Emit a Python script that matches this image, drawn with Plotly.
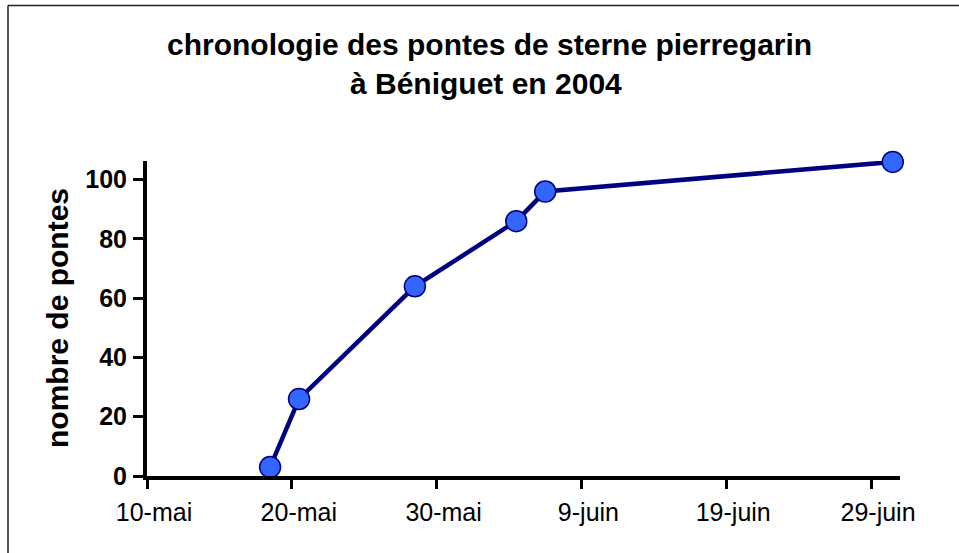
import plotly.graph_objects as go
import pandas as pd

# Data
dates = ["2004-05-18", "2004-05-20", "2004-05-28", "2004-06-04", "2004-06-06", "2004-06-30"]
pontes = [3, 26, 64, 86, 96, 106]
tick_dates = ["2004-05-10", "2004-05-20", "2004-05-30", "2004-06-09", "2004-06-19", "2004-06-29"]
tick_labels = ["10-mai", "20-mai", "30-mai", "9-juin", "19-juin", "29-juin"]
y_ticks = [0, 20, 40, 60, 80, 100]

title1 = "chronologie des pontes de sterne pierregarin"
title2 = "à Béniguet en 2004"
y_title = "nombre de pontes"

W, H = 959, 553
L, R, T, B = 147, 900, 161, 476

def px_x(x):
    return (x - L) / (R - L)

def px_y(y):
    return (B - y) / (B - T)

# Excel date axis centres points in the middle of the day
x_vals = pd.to_datetime(dates) + pd.Timedelta(hours=12)

fig = go.Figure()
fig.add_trace(go.Scatter(
    x=x_vals, y=pontes, mode="lines+markers",
    line=dict(color="#000080", width=4.5),
    marker=dict(size=21, color="#3366FF", line=dict(color="#000080", width=1.5)),
    cliponaxis=False, showlegend=False,
))

FONT = "Liberation Sans, Arial, sans-serif"

border = dict(color="#222222", width=1.5)

fig.update_layout(
    width=W, height=H,
    margin=dict(l=L, r=W - R, t=T, b=H - B),
    paper_bgcolor="white", plot_bgcolor="white",
    font=dict(family=FONT, color="black"),
    xaxis=dict(
        type="date", range=["2004-05-10", "2004-07-01"],
        tickvals=tick_dates, ticktext=tick_labels,
        showgrid=False, zeroline=False,
        showline=True, linecolor="black", linewidth=4,
        ticks="outside", ticklen=9, tickwidth=3, tickcolor="black",
        tickfont=dict(size=25, family=FONT, color="black"),
        ticklabelstandoff=2, ticklabelshift=7,
    ),
    yaxis=dict(
        range=[0, 106.3], tickvals=y_ticks,
        showgrid=False, zeroline=False,
        showline=True, linecolor="black", linewidth=4,
        ticks="outside", ticklen=10, tickwidth=3, tickcolor="black",
        tickfont=dict(size=25, family=FONT, color="black", weight="bold"),
        ticklabelstandoff=1,
    ),
    shapes=[
        dict(type="line", xref="paper", yref="paper",
             x0=px_x(8), x1=px_x(960), y0=px_y(5.5), y1=px_y(5.5),
             line=border, layer="below"),
        dict(type="line", xref="paper", yref="paper",
             x0=px_x(8), x1=px_x(8), y0=px_y(5.5), y1=px_y(554),
             line=border, layer="below"),
    ],
    annotations=[
        dict(text=f"<b>{title1}</b>", xref="paper", yref="paper",
             x=px_x(489), y=px_y(45), xanchor="center", yanchor="middle",
             showarrow=False, font=dict(size=30, family=FONT)),
        dict(text=f"<b>{title2}</b>", xref="paper", yref="paper",
             x=px_x(486), y=px_y(83), xanchor="center", yanchor="middle",
             showarrow=False, font=dict(size=30, family=FONT)),
        dict(text=f"<b>{y_title}</b>", xref="paper", yref="paper",
             x=px_x(57), y=px_y(318), xanchor="center", yanchor="middle",
             textangle=-90, showarrow=False, font=dict(size=30, family=FONT)),
    ],
)

fig.write_html(
    "out.html",
    config={"displayModeBar": False},
    post_script=(
        "document.documentElement.style.overflow='hidden';"
        "document.body.style.margin='0';document.body.style.overflow='hidden';"
        "document.body.style.background='white';"
    ),
)
